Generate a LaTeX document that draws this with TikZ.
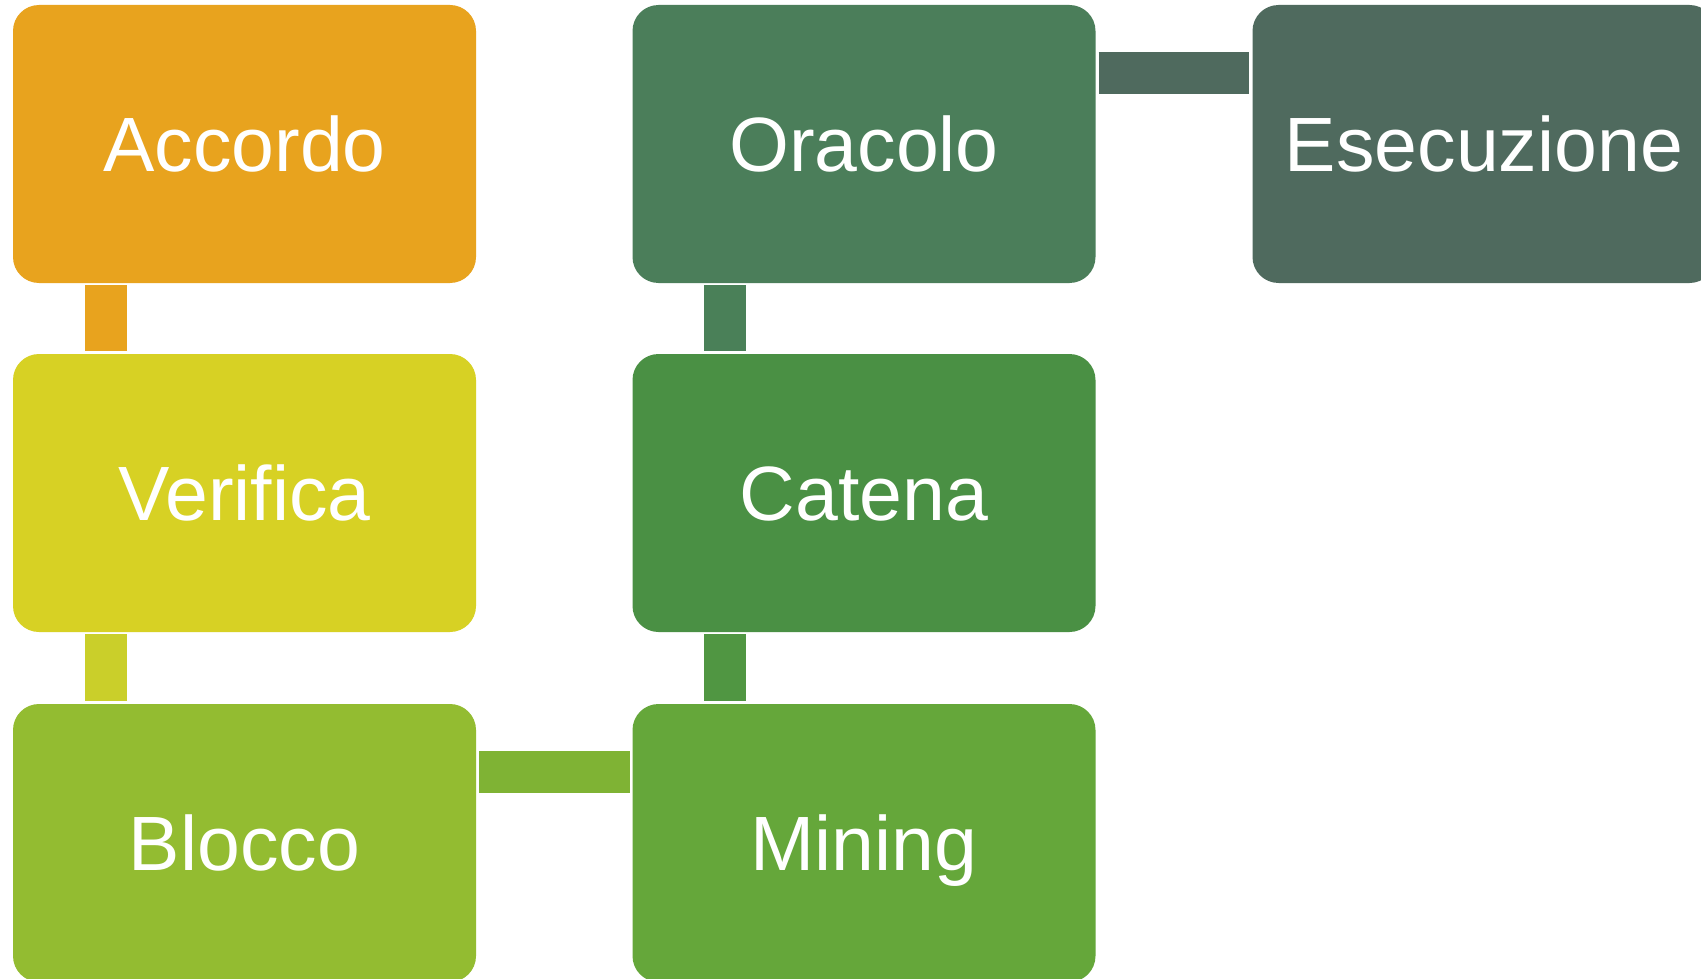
\documentclass[tikz,border=0pt]{standalone}
\usepackage{fontspec}
\setmainfont{Liberation Sans}
\definecolor{cAcc}{RGB}{232,163,30}
\definecolor{cVer}{RGB}{215,209,36}
\definecolor{cBlo}{RGB}{147,188,49}
\definecolor{cMin}{RGB}{101,167,58}
\definecolor{cCat}{RGB}{74,144,68}
\definecolor{cOra}{RGB}{75,126,90}
\definecolor{cEse}{RGB}{79,106,94}
\definecolor{kVB}{RGB}{202,207,42}
\definecolor{kBM}{RGB}{127,179,52}
\definecolor{kMC}{RGB}{80,150,66}
\definecolor{kCO}{RGB}{74,128,88}
\definecolor{kOE}{RGB}{79,106,94}
\tikzset{
  box/.style={rectangle, rounded corners=26pt, draw=none, inner sep=0pt,
    minimum width=463pt, minimum height=278pt, text=white,
    text height=55pt, text depth=0pt,
    font=\fontsize{77pt}{90pt}\selectfont},
  conn/.style={line width=42pt, line cap=butt}
}
\begin{document}
\begin{tikzpicture}
\useasboundingbox (0pt,0pt) rectangle (1701pt,-979pt);
\fill[white] (0pt,0pt) rectangle (1701pt,-979pt);
\node[box, fill=cAcc] (A) at (244.5pt,-144pt) {Accordo};
\node[box, fill=cVer] (V) at (244.5pt,-493pt) {Verifica};
\node[box, fill=cBlo] (B) at (244.5pt,-843pt) {Blocco};
\node[box, fill=cMin] (M) at (864pt,-843pt) {Mining};
\node[box, fill=cCat] (C) at (864pt,-493pt) {Catena};
\node[box, fill=cOra] (O) at (864pt,-144pt) {Oracolo};
\node[box, fill=cEse] (E) at (1484pt,-144pt) {Esecuzione};
\draw[conn, cAcc] ([xshift=93pt,yshift=-2pt]A.south west) -- ([xshift=93pt,yshift=3pt]V.north west);
\draw[conn, kVB] ([xshift=93pt,yshift=-2pt]V.south west) -- ([xshift=93pt,yshift=3pt]B.north west);
\draw[conn, kBM] ([xshift=3pt,yshift=-68pt]B.north east) -- ([xshift=-2pt,yshift=-68pt]M.north west);
\draw[conn, kMC] ([xshift=93pt,yshift=3pt]M.north west) -- ([xshift=93pt,yshift=-2pt]C.south west);
\draw[conn, kCO] ([xshift=93pt,yshift=3pt]C.north west) -- ([xshift=93pt,yshift=-2pt]O.south west);
\draw[conn, kOE] ([xshift=3pt,yshift=-68pt]O.north east) -- ([xshift=-3pt,yshift=-68pt]E.north west);
\end{tikzpicture}
\end{document}
